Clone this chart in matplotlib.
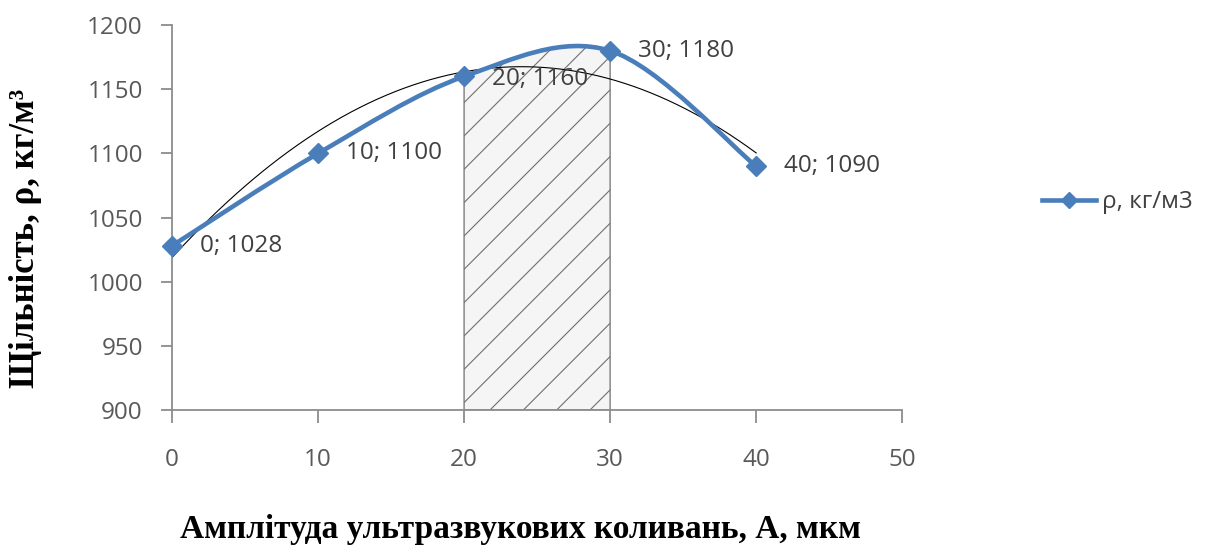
import numpy as np
import matplotlib
matplotlib.use("Agg")
from matplotlib import pyplot as plt
from matplotlib.path import Path
from matplotlib.patches import PathPatch
from matplotlib.lines import Line2D

# data
amplitude = [0, 10, 20, 30, 40]
density = [1028, 1100, 1160, 1180, 1090]
point_labels = ["0; 1028", "10; 1100", "20; 1160", "30; 1180", "40; 1090"]
x_ticks = [0, 10, 20, 30, 40, 50]
y_ticks = [900, 950, 1000, 1050, 1100, 1150, 1200]
zone = [20, 30]  # shaded optimum range

blue = "#4a7ebb"
grey = "#8c8c8c"
txt = "#404040"

plt.rcParams['font.family'] = ['Open Sans', 'DejaVu Sans']

fig = plt.figure(figsize=(12.19, 5.46), dpi=100)
ax = fig.add_axes([0.1411, 0.249, 0.599, 0.705])

# excel style smoothed line -> cubic bezier segments (catmull-rom control points)
pts = np.column_stack([amplitude, density]).astype(float)
n = len(pts)
def ctrl(i):
    p_prev = pts[max(i - 1, 0)]
    p_next2 = pts[min(i + 2, n - 1)]
    c1 = pts[i] + (pts[i + 1] - p_prev) / 6
    c2 = pts[i + 1] - (p_next2 - pts[i]) / 6
    return c1, c2

verts = [pts[0]]
codes = [Path.MOVETO]
for i in range(n - 1):
    c1, c2 = ctrl(i)
    verts += [c1, c2, pts[i + 1]]
    codes += [Path.CURVE4] * 3

# hatched zone under the curve between 20 and 30
i0 = amplitude.index(zone[0])
c1, c2 = ctrl(i0)
zv = [(zone[0], 900), pts[i0], c1, c2, pts[i0 + 1], (zone[1], 900), (zone[0], 900)]
zc = [Path.MOVETO, Path.LINETO, Path.CURVE4, Path.CURVE4, Path.CURVE4, Path.LINETO, Path.CLOSEPOLY]
plt.rcParams['hatch.linewidth'] = 0.8
plt.rcParams['hatch.color'] = '#707070'
ax.add_patch(PathPatch(Path(zv, zc), facecolor="#f5f5f5", edgecolor="#707070",
                       lw=0.9, hatch="/", zorder=1))

# quadratic trendline
coef = np.polyfit(amplitude, density, 2)
xs = np.linspace(amplitude[0], amplitude[-1], 200)
ax.plot(xs, np.polyval(coef, xs), color="black", lw=0.8, zorder=2)

ax.add_patch(PathPatch(Path(verts, codes), facecolor="none", edgecolor=blue,
                       lw=3.3, zorder=3, capstyle="round"))
ax.plot(amplitude, density, linestyle="none", marker="D", markersize=10,
        color=blue, zorder=4, clip_on=False)

for x, y, lab in zip(amplitude, density, point_labels):
    dy = -2 if x == 20 else 0
    ax.annotate(lab, (x, y), xytext=(20, dy), textcoords="offset points",
                va="center", ha="left", fontsize=17.5, color=txt, zorder=5)

ax.set_xlim(0, 50)
ax.set_ylim(900, 1200)
ax.set_xticks(x_ticks)
ax.set_yticks(y_ticks)
for s in ["top", "right"]:
    ax.spines[s].set_visible(False)
for s in ["left", "bottom"]:
    ax.spines[s].set_color(grey)
    ax.spines[s].set_linewidth(1.3)
ax.tick_params(axis="x", direction="out", length=9, width=1.3, color=grey,
               pad=18, labelsize=17.5, labelcolor="#595959")
ax.tick_params(axis="y", direction="out", length=8, width=1.3, color=grey,
               pad=13, labelsize=17.5, labelcolor="#595959")

fig.text(0.4266, 0.031, "Амплітуда ультразвукових коливань, А, мкм",
         family="Liberation Serif", fontweight="bold", fontsize=24,
         ha="center", va="center", color="black")
fig.text(0.021, 0.564, "Щільність, ρ, кг/м³", family="Liberation Serif",
         fontweight="bold", fontsize=25, rotation=90, ha="center", va="center")

handle = Line2D([], [], color=blue, lw=3.3, marker="D", markersize=8)
fig.legend([handle], ["ρ, кг/м3"], loc="center left", bbox_to_anchor=(0.855, 0.63),
           frameon=False, fontsize=17.5, handlelength=2.2, handletextpad=0.25,
           borderpad=0, borderaxespad=0, labelcolor=txt)

fig.savefig("out.png", dpi=100)
